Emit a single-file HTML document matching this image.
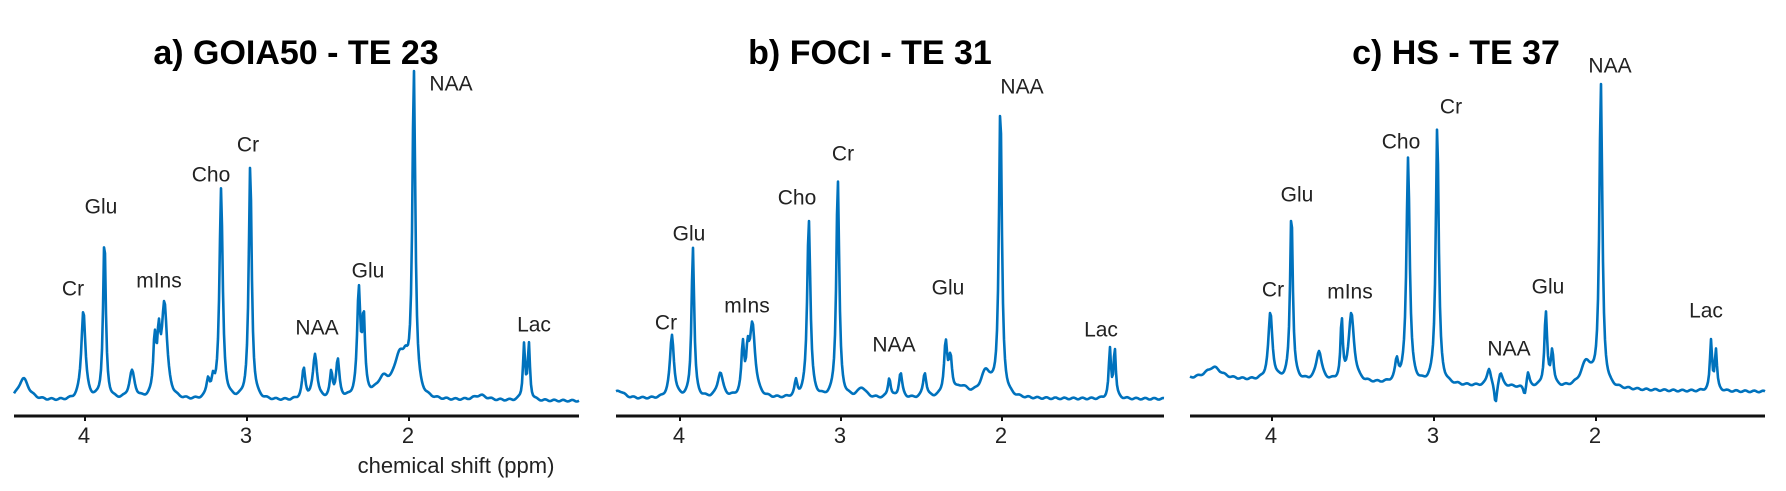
<!DOCTYPE html>
<html><head><meta charset="utf-8"><style>
html,body{margin:0;padding:0;background:#fff;width:1786px;height:491px;overflow:hidden}
svg{display:block}
text{font-family:"Liberation Sans",Arial,sans-serif;fill:#222}
.t{font-size:34px;font-weight:bold;fill:#000;text-anchor:middle}
.l{font-size:21px;text-anchor:middle;dominant-baseline:central}
.k{font-size:22px;text-anchor:middle}
</style></head><body>
<svg id="s" width="1786" height="491" viewBox="0 0 1786 491">
<text class="t" x="296" y="64">a) GOIA50  - TE 23</text>
<text class="t" x="870" y="64">b) FOCI - TE 31</text>
<text class="t" x="1456" y="64">c) HS - TE 37</text>
<g id="g"></g>
<text class="l" x="73" y="289">Cr</text><text class="l" x="101" y="207">Glu</text><text class="l" x="159" y="281">mIns</text>
<text class="l" x="211" y="175">Cho</text><text class="l" x="248" y="145">Cr</text><text class="l" x="317" y="328">NAA</text>
<text class="l" x="368" y="271">Glu</text><text class="l" x="451" y="84">NAA</text><text class="l" x="534" y="325">Lac</text>
<text class="l" x="666" y="323">Cr</text><text class="l" x="689" y="234">Glu</text><text class="l" x="747" y="306">mIns</text>
<text class="l" x="797" y="198">Cho</text><text class="l" x="843" y="154">Cr</text><text class="l" x="894" y="345">NAA</text>
<text class="l" x="948" y="288">Glu</text><text class="l" x="1022" y="87">NAA</text><text class="l" x="1101" y="330">Lac</text>
<text class="l" x="1273" y="290">Cr</text><text class="l" x="1297" y="195">Glu</text><text class="l" x="1350" y="292">mIns</text>
<text class="l" x="1401" y="142">Cho</text><text class="l" x="1451" y="107">Cr</text><text class="l" x="1509" y="349">NAA</text>
<text class="l" x="1548" y="287">Glu</text><text class="l" x="1610" y="66">NAA</text><text class="l" x="1706" y="311">Lac</text>
<text class="k" x="456" y="473">chemical shift (ppm)</text>
</svg>
<script>
var P=[
{x0:14,x1:579,t4:85,ppx:162,base:401,sh:-0.04,pk:[[2.01,322,.011],[3.02,235,.011],[3.20,210,.012],[3.92,162,.01],[4.05,90,.015],[3.55,95,.02],[3.61,55,.01],[3.585,50,.01],[3.75,28,.02],[2.35,105,.012],[2.32,75,.01],[2.62,45,.015],[2.69,30,.012],[2.48,38,.012],[2.52,25,.01],[1.33,55,.008],[1.30,55,.008],[2.1,38,.04],[2.06,20,.02],[4.42,22,.04],[3.28,18,.012],[3.25,14,.01],[2.2,18,.05],[1.6,5,.05]]},
{x0:616,x1:1164,t4:680,ppx:161,base:399,sh:0,pk:[[2.01,291,.011],[3.02,219,.011],[3.20,179,.012],[3.92,151,.01],[4.05,63,.015],[3.55,72,.02],[3.61,48,.01],[3.58,35,.01],[3.75,25,.02],[2.35,52,.012],[2.32,35,.012],[2.63,25,.012],[2.70,20,.01],[2.48,25,.012],[1.33,48,.008],[1.30,50,.008],[2.1,25,.04],[3.28,15,.01],[2.87,10,.03],[4.38,8,.04],[2.25,10,.05]]},
{x0:1190,x1:1765,t4:1272,ppx:162,base:391,sh:-0.04,pk:[[2.01,302,.011],[3.02,259,.011],[3.20,226,.012],[3.92,171,.01],[4.05,67,.015],[3.55,68,.02],[3.61,59,.008],[3.75,30,.02],[2.35,74,.01],[2.31,35,.01],[2.70,18,.015],[2.63,14,.015],[2.66,-22,.01],[2.48,-10,.01],[2.46,15,.01],[1.33,49,.008],[1.30,40,.008],[2.1,25,.04],[3.27,20,.012],[4.4,12,.06]]}
];
var g=document.getElementById('g'),h='';
P.forEach(function(p,i){
 var d='';
 for(var x=p.x0;x<=p.x1;x++){
  var ppm=4-(x-p.t4)/p.ppx,y=p.base;
  p.pk.forEach(function(k){var u=(ppm-k[0]-p.sh)/k[2];y-=k[1]/(1+u*u);});
  if(i==2)y-=(ppm-1.5)*4*(ppm>1.5?1:0.3);
  y+=Math.sin(x*0.7+i)*0.8;
  d+=(x==p.x0?'M':'L')+x+' '+y.toFixed(1);
 }
 h+='<path d="'+d+'" fill="none" stroke="#0072BD" stroke-width="2.6" stroke-linejoin="round"/>';
 h+='<line x1="'+p.x0+'" y1="416" x2="'+p.x1+'" y2="416" stroke="#111" stroke-width="3"/>';
 for(var t=0;t<3;t++){var tx=p.t4+t*p.ppx;
  h+='<line x1="'+tx+'" y1="416" x2="'+tx+'" y2="421" stroke="#111" stroke-width="2"/>';
  h+='<text class="k" x="'+(tx-1)+'" y="443">'+(4-t)+'</text>';}
});
g.innerHTML=h;
</script>
</body></html>
